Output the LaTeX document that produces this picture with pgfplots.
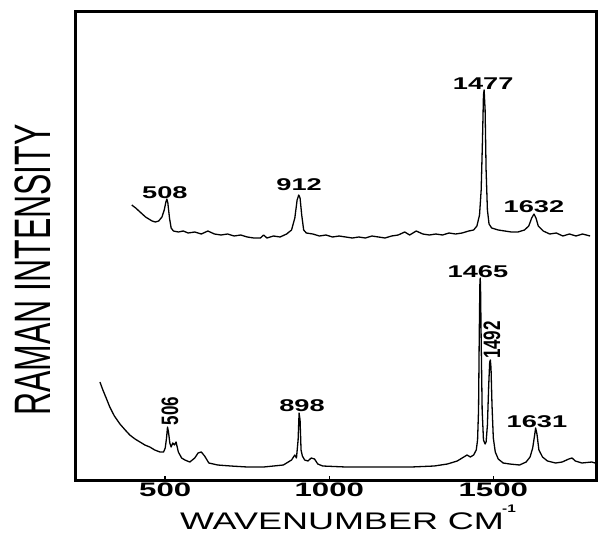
\documentclass[border=0pt]{standalone}
\usepackage{pgfplots}
\pgfplotsset{compat=1.18}
\usepackage{fontspec}
\setmainfont{Liberation Sans}
\newcommand\pk[1]{\scalebox{1.6}[1]{\fontsize{17}{17}\selectfont\bfseries #1}}
\newcommand\pkr[1]{\scalebox{1}[1.4]{\fontsize{17}{17}\selectfont\bfseries #1}}
\newcommand\tk[1]{\scalebox{1.6}[1]{\fontsize{19.5}{19.5}\selectfont\bfseries #1}}
\begin{document}
\begin{tikzpicture}
\useasboundingbox (-75pt,-62pt) rectangle (527pt,480pt);
\begin{axis}[at={(0,0)}, anchor=south west, scale only axis,
  width=521pt, height=468pt,
  xmin=225, xmax=1813, ymin=0, ymax=468,
  axis line style={line width=3pt},
  xtick={500,1000,1500}, xticklabels={\tk{500},\tk{1000},\tk{1500}},
  ytick=\empty, xtick pos=bottom, tick align=inside, major tick length=4pt,
  every tick/.style={line width=1.5pt, black},
  xticklabel style={inner sep=0pt, yshift=-3pt},
  clip=false]
% upper spectrum
\addplot[line width=1.3pt, black, line join=round] table {
398 275
410 272
420 269
430 266
440 263
450 261
460 259
470 258
480 259
490 263
497 270
502 278
505 281
508 277
513 262
518 252
525 249
540 248
555 249
570 247
590 248
610 246
630 249
650 246
670 245
690 246
710 244
730 245
750 243
770 242
790 242
800 245
810 242
830 244
850 243
870 246
885 250
895 262
902 280
907 285
911 282
916 265
922 250
930 247
950 246
970 244
990 245
1010 243
1030 244
1050 243
1070 242
1090 243
1110 242
1130 244
1150 243
1170 242
1190 244
1210 245
1230 248
1245 245
1265 249
1285 246
1305 245
1325 246
1345 245
1365 247
1385 246
1405 247
1425 249
1440 250
1450 254
1458 265
1463 290
1467 340
1470 385
1472 390
1475 370
1478 310
1482 270
1487 256
1495 252
1515 250
1535 249
1555 248
1575 248
1595 250
1608 254
1617 262
1624 266
1630 262
1637 254
1652 249
1672 246
1692 247
1712 244
1732 246
1752 244
1772 246
1795 244
};
% lower spectrum
\addplot[line width=1.3pt, black, line join=round] table {
301 98
310 90
320 82
331 73
345 64
362 56
378 50
392 45
408 41
423 38
438 35
453 33
468 30
484 28
495 28
500 32
504 42
507 53
510 48
514 37
518 33
523 37
528 35
533 38
540 28
550 22
560 20
575 18
590 22
600 27
610 28
620 24
633 17
660 15
700 14
750 13
800 13
830 14
860 15
875 18
885 20
895 25
900 22
905 40
908 67
911 60
914 30
918 24
925 20
935 19
945 22
955 21
965 16
980 14
1050 13
1150 13
1250 13
1320 14
1360 16
1390 19
1410 23
1420 25
1430 23
1440 25
1448 30
1452 40
1455 70
1457 140
1459 195
1460 202
1461 195
1463 140
1466 70
1470 40
1475 36
1478 38
1482 55
1486 95
1489 118
1491 120
1493 112
1496 75
1500 42
1506 28
1515 21
1530 17
1550 16
1580 15
1600 18
1612 23
1620 32
1626 45
1629 52
1633 46
1639 30
1650 23
1665 19
1690 17
1710 18
1730 21
1740 22
1750 19
1770 17
1800 18
1810 17
};
\node[inner sep=0pt] at (axis cs:1469,396) {\pk{1477}};
\node[inner sep=0pt] at (axis cs:1624,273) {\pk{1632}};
\node[inner sep=0pt] at (axis cs:499,287) {\pk{508}};
\node[inner sep=0pt] at (axis cs:908,295) {\pk{912}};
\node[inner sep=0pt] at (axis cs:1453,208) {\pk{1465}};
\node[inner sep=0pt, rotate=90] at (axis cs:1496,140) {\pkr{1492}};
\node[inner sep=0pt] at (axis cs:1633,58) {\pk{1631}};
\node[inner sep=0pt, rotate=90] at (axis cs:514,69) {\pkr{506}};
\node[inner sep=0pt] at (axis cs:917,74) {\pk{898}};
\end{axis}
\node[inner sep=0pt, rotate=90] at (-42pt,210pt) {\scalebox{1}[1.6]{\fontsize{32}{32}\selectfont RAMAN INTENSITY}};
\node[inner sep=0pt] at (267pt,-41pt) {\scalebox{1.5}[1]{\fontsize{24}{24}\selectfont WAVENUMBER CM}};
\node[inner sep=0pt] at (434pt,-29pt) {\scalebox{1.4}[1]{\fontsize{11}{11}\selectfont\bfseries -1}};
\end{tikzpicture}
\end{document}
